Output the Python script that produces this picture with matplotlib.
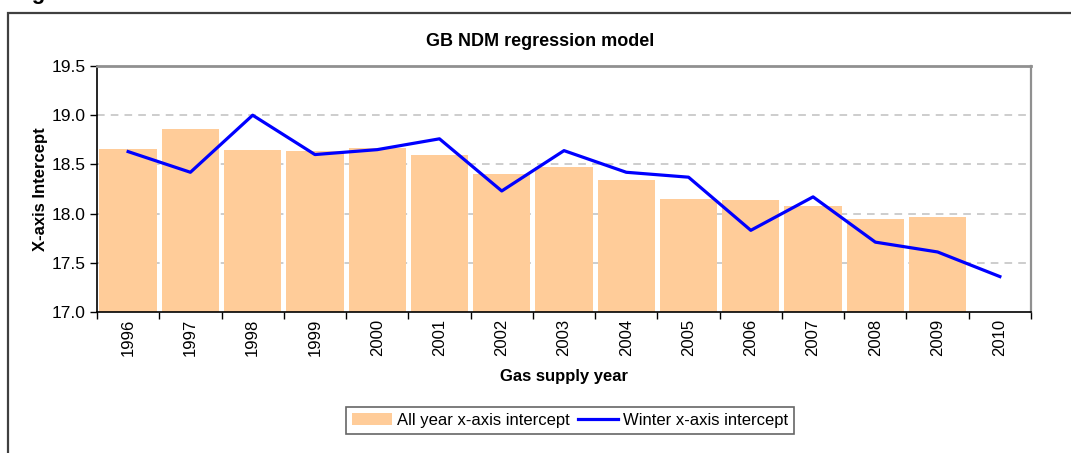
import matplotlib
matplotlib.use("Agg")
import matplotlib.pyplot as plt
from matplotlib.patches import Rectangle
from matplotlib.lines import Line2D
import numpy as np

plt.rcParams['font.family'] = ['Liberation Sans', 'DejaVu Sans']

years = ['1996', '1997', '1998', '1999', '2000', '2001', '2002', '2003',
         '2004', '2005', '2006', '2007', '2008', '2009', '2010']
all_year = [18.66, 18.86, 18.65, 18.64, 18.67, 18.60, 18.40, 18.47,
            18.34, 18.15, 18.14, 18.08, 17.95, 17.97, np.nan]
winter = [18.63, 18.42, 19.00, 18.60, 18.65, 18.76, 18.23, 18.64,
          18.42, 18.37, 17.83, 18.17, 17.71, 17.61, 17.36]

W, H = 1071, 453
fig = plt.figure(figsize=(W / 100, H / 100), dpi=100)

# outer chart border (extends beyond the right/bottom edges)
fig.patches.append(Rectangle((8 / W, -0.1), 1.2, 1 - 13 / H + 0.1,
                             transform=fig.transFigure, fill=False,
                             edgecolor='#404040', linewidth=1.6))
fig.text(12 / W, 1 + 1.5 / H, 'Figure 3', fontsize=16, fontweight='bold',
         va='baseline', ha='left', color='black')

ax = fig.add_axes([97 / W, 1 - 312 / H, (1031 - 97) / W, (312 - 66) / H])
x = np.arange(len(years))
ax.bar(x, all_year, width=0.92, color='#FFCC99', zorder=2,
       label='All year x-axis intercept')
ax.plot(x, winter, color='#0000FF', linewidth=2.3, zorder=3,
        label='Winter x-axis intercept')

ax.set_xlim(-0.5, len(years) - 0.5)
ax.set_ylim(17.0, 19.5)
ax.set_yticks([17.0, 17.5, 18.0, 18.5, 19.0, 19.5])
ax.set_yticklabels(['17.0', '17.5', '18.0', '18.5', '19.0', '19.5'], fontsize=12.5)
ax.set_xticks(x)
ax.set_xticklabels(years, rotation=90, fontsize=12)
ax.set_xticks(np.arange(-0.5, len(years), 1.0), minor=True)
ax.tick_params(axis='x', which='major', length=0, pad=5)
ax.tick_params(axis='x', which='minor', length=5, width=1, color='black')
ax.tick_params(axis='y', length=5, width=1, pad=3)

for yv in [17.5, 18.0, 18.5, 19.0]:
    ax.axhline(yv, color='#C0C0C0', linewidth=1.1, linestyle=(0, (5, 4)), zorder=1)

ax.spines['left'].set_color('black')
ax.spines['bottom'].set_color('black')
ax.spines['top'].set_color('#909090')
ax.spines['right'].set_color('#909090')
for s in ax.spines.values():
    s.set_linewidth(1.2)
ax.spines['top'].set_linewidth(2)
ax.spines['right'].set_linewidth(1.6)

ax.set_xlabel('Gas supply year', fontsize=12, fontweight='bold')
ax.xaxis.set_label_coords(0.5, -(377 - 312) / (312 - 66))
ax.xaxis.label.set_va('center')
ax.set_ylabel('X-axis Intercept', fontsize=12, fontweight='bold')
ax.yaxis.set_label_coords(-(97 - 40) / (1031 - 97), 0.5)
ax.yaxis.label.set_va('center')
fig.text(540 / W, 1 - 41 / H, 'GB NDM regression model', fontsize=13,
         fontweight='bold', ha='center', va='center')

handles = [Rectangle((0, 0), 1, 1, facecolor='#FFCC99', edgecolor='none'),
           Line2D([0], [0], color='#0000FF', linewidth=2.3)]
leg = fig.legend(handles, ['All year x-axis intercept', 'Winter x-axis intercept'],
                 loc='center', bbox_to_anchor=(570 / W, 1 - 420.5 / H), ncol=2,
                 fontsize=12, frameon=True, fancybox=False, edgecolor='#404040',
                 handlelength=2.4, handletextpad=0.3, columnspacing=0.5,
                 borderpad=0.35, borderaxespad=0)
leg.get_frame().set_linewidth(1.2)

fig.savefig('out.png', dpi=100)
